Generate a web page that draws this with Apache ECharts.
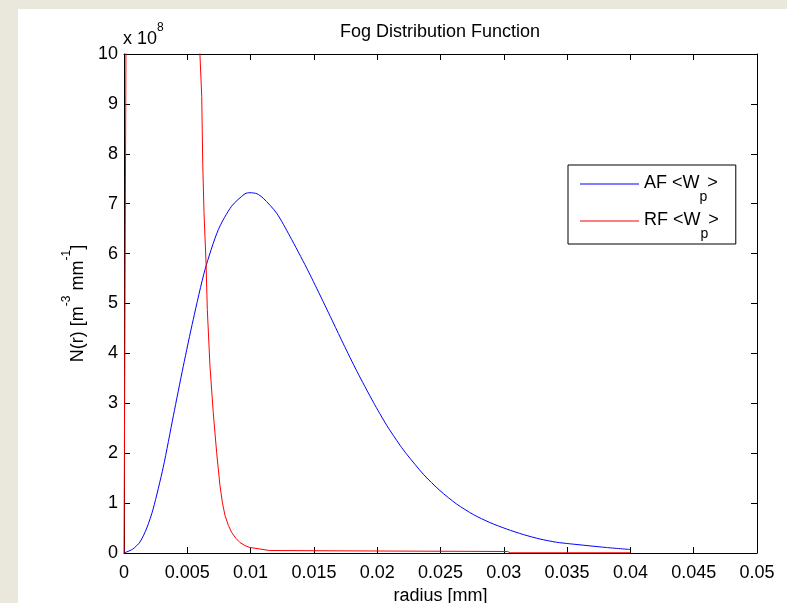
<!DOCTYPE html>
<html>
<head>
<meta charset="utf-8">
<script src="https://cdn.jsdelivr.net/npm/echarts@6/dist/echarts.min.js"></script>
<style>
  html, body { margin: 0; padding: 0; width: 787px; height: 603px; overflow: hidden; background: #eae7dc; }
  #paper { position: absolute; left: 18px; top: 9px; right: 0; bottom: 0; background: #ffffff; }
  #chart { position: absolute; left: 0; top: 0; width: 787px; height: 603px; }
</style>
</head>
<body>
<div id="paper"></div>
<div id="chart"></div>
<script>
// ---- data (radius in mm, N(r) in units of 1e8 m^-3 mm^-1) ----
const afR = [0, 0.0002, 0.0007, 0.00126, 0.0018, 0.0023, 0.0031, 0.0039, 0.00468, 0.00547, 0.0064, 0.00745, 0.0085, 0.00956, 0.00995, 0.0105, 0.011, 0.01206, 0.0131, 0.01443, 0.01548, 0.01654, 0.01733, 0.01838, 0.0197, 0.02075, 0.0218, 0.02233, 0.02364, 0.02496, 0.02628, 0.0276, 0.0289, 0.03023, 0.03154, 0.03286, 0.03418, 0.0352, 0.0381, 0.04];
const afN = [0, 0.02, 0.08, 0.22, 0.5, 0.88, 1.72, 2.75, 3.74, 4.68, 5.68, 6.48, 6.95, 7.2, 7.22, 7.2, 7.11, 6.81, 6.35, 5.71, 5.17, 4.61, 4.19, 3.65, 3.02, 2.56, 2.16, 1.98, 1.58, 1.25, 0.98, 0.77, 0.61, 0.48, 0.37, 0.28, 0.215, 0.185, 0.11, 0.07];

const rfR = [0, 0.00008, 0.00016, 0.0005, 0.002, 0.004, 0.0055, 0.0059, 0.0060, 0.00614, 0.00622, 0.00632, 0.00648, 0.00658, 0.00679, 0.00705, 0.00732, 0.00758, 0.00778, 0.00798, 0.00825, 0.00851, 0.00885, 0.00916, 0.00955, 0.00995, 0.01074, 0.0115, 0.02, 0.0303, 0.0305, 0.04];
const rfN = [0, 5, 10.5, 40, 80, 50, 20, 11, 9.98, 9.15, 7.8, 6.82, 5.82, 4.88, 3.75, 2.81, 2.01, 1.35, 1.0, 0.75, 0.55, 0.41, 0.29, 0.21, 0.15, 0.11, 0.08, 0.05, 0.04, 0.03, 0.005, 0.005];

const seriesNames = ['AF <Wp>', 'RF <Wp>'];
const xTickLabels = ['0', '0.005', '0.01', '0.015', '0.02', '0.025', '0.03', '0.035', '0.04', '0.045', '0.05'];
const yTickLabels = ['0', '1', '2', '3', '4', '5', '6', '7', '8', '9', '10'];

const FONT = 'Liberation Sans, Arial, Helvetica, sans-serif';
const FS = 18;

function zip(a, b) { return a.map((v, i) => [v, b[i]]); }

const supRich = {
  n: { fontSize: FS, fontFamily: FONT, color: '#000', lineHeight: 20, verticalAlign: 'bottom' },
  sup: { fontSize: 12, fontFamily: FONT, color: '#000', lineHeight: 12, verticalAlign: 'bottom', padding: [0, 0, 14, 0] }
};
const subRich = {
  n: { fontSize: FS, fontFamily: FONT, color: '#000', lineHeight: 20, verticalAlign: 'top' },
  sub: { fontSize: 14, fontFamily: FONT, color: '#000', lineHeight: 14, verticalAlign: 'top', padding: [16, 0, 0, 0] }
};

const chart = echarts.init(document.getElementById('chart'), null, { renderer: 'canvas' });

const axisCommon = {
  type: 'value',
  axisLine: { show: true, onZero: false, lineStyle: { color: '#000', width: 1 } },
  axisTick: { show: true, inside: true, length: 6, lineStyle: { color: '#000', width: 1 } },
  splitLine: { show: false }
};

chart.setOption({
  animation: false,
  backgroundColor: 'transparent',
  textStyle: { fontFamily: FONT },
  title: {
    text: 'Fog Distribution Function',
    left: 440, top: 23, padding: 0,
    textAlign: 'center',
    textStyle: { fontSize: FS, fontWeight: 'normal', color: '#000', fontFamily: FONT }
  },
  grid: { left: 124, top: 54, width: 633, height: 499, containLabel: false, outerBoundsMode: 'none' },
  legend: {
    orient: 'vertical',
    left: 568, top: 165,
    padding: [9, 17, 3, 12],
    itemGap: 7,
    itemWidth: 59, itemHeight: 1,
    icon: 'rect',
    borderColor: '#000', borderWidth: 1,
    backgroundColor: '#fff',
    selectedMode: false,
    data: seriesNames,
    formatter: function (name) {
      return '{n|' + name.slice(0, 5) + '}{sub|p}{n|>}';
    },
    textStyle: { fontSize: FS, color: '#000', fontFamily: FONT, rich: subRich }
  },
  xAxis: [
    Object.assign({}, axisCommon, {
      position: 'bottom', min: 0, max: 0.05, interval: 0.005,
      name: 'radius [mm]', nameLocation: 'middle', nameGap: 33,
      nameTextStyle: { fontSize: FS, color: '#000', fontFamily: FONT },
      axisLabel: {
        show: true, margin: 11, fontSize: FS, color: '#000', fontFamily: FONT,
        formatter: function (v) { return xTickLabels[Math.round(v / 0.005)]; }
      }
    }),
    Object.assign({}, axisCommon, {
      position: 'top', min: 0, max: 0.05, interval: 0.005,
      axisLabel: { show: false }
    })
  ],
  yAxis: [
    Object.assign({}, axisCommon, {
      position: 'left', min: 0, max: 10, interval: 1,
      name: '{n|N(r) [m}{sup|-3}{n| mm}{sup|-1}{n|]}',
      nameLocation: 'middle', nameRotate: 90, nameGap: 37,
      nameTextStyle: { fontSize: FS, color: '#000', fontFamily: FONT, rich: supRich },
      axisLabel: {
        show: true, margin: 6, fontSize: FS, color: '#000', fontFamily: FONT,
        formatter: function (v) { return yTickLabels[Math.round(v)]; }
      }
    }),
    Object.assign({}, axisCommon, {
      position: 'right', min: 0, max: 10, interval: 1,
      axisLabel: { show: false }
    })
  ],
  graphic: [
    {
      type: 'text', left: 123, top: 22, z: 10,
      style: { text: '{n|x 10}{sup|8}', rich: supRich, fill: '#000' }
    }
  ],
  series: [
    {
      name: seriesNames[0], type: 'line', xAxisIndex: 0, yAxisIndex: 0,
      data: zip(afR, afN), showSymbol: false, symbol: 'none', clip: true,
      smooth: 0.25,
      lineStyle: { color: '#0000ff', width: 1 }, itemStyle: { color: '#0000ff' }
    },
    {
      name: seriesNames[1], type: 'line', xAxisIndex: 0, yAxisIndex: 0,
      data: zip(rfR, rfN), showSymbol: false, symbol: 'none', clip: true,
      lineStyle: { color: '#ff0000', width: 1 }, itemStyle: { color: '#ff0000' }
    }
  ]
});
</script>
</body>
</html>
